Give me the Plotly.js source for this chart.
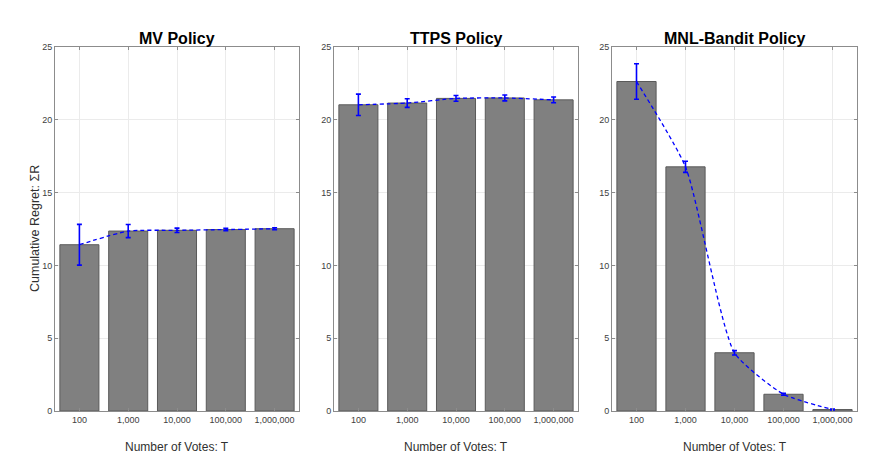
<!DOCTYPE html>
<html>
<head>
<meta charset="utf-8">
<script src="https://cdn.plot.ly/plotly-3.0.1.min.js"></script>
<style>
  html, body { margin: 0; padding: 0; background: #fff; }
  #chart { width: 872px; height: 468px; }
</style>
</head>
<body>
<div id="chart"></div>
<script>
  var categories = ["100", "1,000", "10,000", "100,000", "1,000,000"];
  var policies = ["MV Policy", "TTPS Policy", "MNL-Bandit Policy"];

  var mvMean = [11.42, 12.36, 12.41, 12.46, 12.52];
  var mvErr = [1.4, 0.45, 0.15, 0.08, 0.07];
  var ttpsMean = [21.03, 21.15, 21.47, 21.5, 21.37];
  var ttpsErr = [0.73, 0.3, 0.2, 0.2, 0.2];
  var mnlMean = [22.63, 16.77, 4.0, 1.15, 0.1];
  var mnlErr = [1.22, 0.38, 0.15, 0.07, 0.03];

  var yTicks = [0, 5, 10, 15, 20, 25];

  var means = [mvMean, ttpsMean, mnlMean];
  var errs = [mvErr, ttpsErr, mnlErr];

  var W = 872, H = 468;
  var panelPx = [[55, 299], [334, 578], [612, 857]];
  var yDom = [1 - 411 / H, 1 - 47 / H];

  var traces = [];
  var layout = {
    width: W,
    height: H,
    margin: { l: 0, r: 0, t: 0, b: 0 },
    paper_bgcolor: "#ffffff",
    plot_bgcolor: "#ffffff",
    font: { family: "Liberation Sans, Arial, sans-serif", size: 9, color: "#404040" },
    showlegend: false,
    annotations: [],
  };

  means.forEach(function (vals, i) {
    var n = i === 0 ? "" : String(i + 1);
    var xa = "x" + n, ya = "y" + n;
    traces.push({
      type: "bar",
      x: [0, 1, 2, 3, 4],
      y: vals,
      xaxis: xa,
      yaxis: ya,
      width: 0.8,
      marker: { color: "#808080", line: { color: "#5a5a5a", width: 1 } },
      hoverinfo: "y",
    });
    traces.push({
      type: "scatter",
      mode: "lines",
      x: [0, 1, 2, 3, 4],
      y: vals,
      xaxis: xa,
      yaxis: ya,
      line: { color: "#0000ff", width: 1.3, dash: "4px,3px", shape: "spline", smoothing: 0.55 },
      error_y: { type: "data", array: errs[i], visible: true, color: "#0000ff", thickness: 1.6, width: 2.5 },
      hoverinfo: "y",
    });

    var px = panelPx[i];
    var axX = {
      domain: [px[0] / W, px[1] / W],
      range: [-0.5, 4.5],
      tickvals: [0, 1, 2, 3, 4],
      ticktext: categories,
      showgrid: true,
      gridcolor: "#ebebeb",
      zeroline: false,
      showline: true,
      linecolor: "#8c8c8c",
      linewidth: 1,
      mirror: "ticks",
      ticks: "inside",
      ticklen: 3,
      tickcolor: "#8c8c8c",
      tickfont: { size: 9, color: "#404040" },
      fixedrange: true,
      anchor: ya,
    };
    var axY = {
      domain: yDom,
      range: [0, 25],
      tickvals: yTicks,
      showgrid: true,
      gridcolor: "#ebebeb",
      zeroline: false,
      showline: true,
      linecolor: "#8c8c8c",
      linewidth: 1,
      mirror: "ticks",
      ticks: "inside",
      ticklen: 3,
      tickcolor: "#8c8c8c",
      tickfont: { size: 9, color: "#404040" },
      fixedrange: true,
      anchor: xa,
    };
    layout["xaxis" + n] = axX;
    layout["yaxis" + n] = axY;

    var cx = (px[0] + px[1]) / 2 / W;
    layout.annotations.push({
      text: "<b>" + policies[i] + "</b>",
      x: cx, y: 1 - 38 / H, xref: "paper", yref: "paper",
      showarrow: false, font: { size: 16, color: "#000000" },
      xanchor: "center", yanchor: "middle",
    });
    layout.annotations.push({
      text: "Number of Votes: T",
      x: cx, y: 1 - 447 / H, xref: "paper", yref: "paper",
      showarrow: false, font: { size: 12, color: "#303030" },
      xanchor: "center", yanchor: "middle",
    });
  });

  layout.annotations.push({
    text: "Cumulative Regret: ΣR",
    x: 35 / W, y: 1 - 229 / H, xref: "paper", yref: "paper",
    showarrow: false, textangle: -90, font: { size: 12.5, color: "#303030" },
    xanchor: "center", yanchor: "middle",
  });

  Plotly.newPlot("chart", traces, layout, { displayModeBar: false, staticPlot: true });
</script>
</body>
</html>
